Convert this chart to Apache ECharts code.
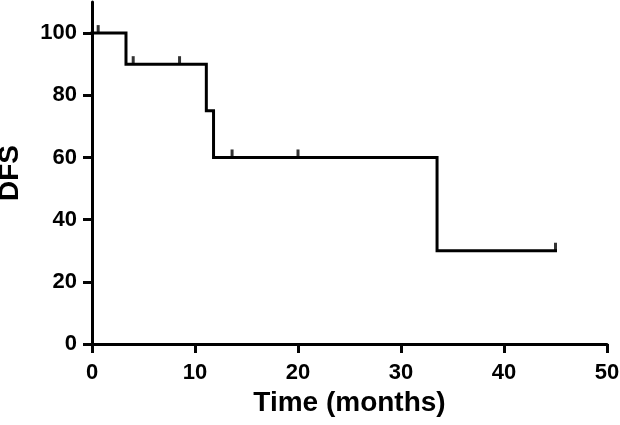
<!DOCTYPE html>
<html>
<head>
<meta charset="utf-8">
<script src="https://cdn.jsdelivr.net/npm/echarts@6/dist/echarts.min.js"></script>
<style>html,body{margin:0;padding:0;background:#fff}#c{width:620px;height:425px}</style>
</head>
<body>
<div id="c"></div>
<script>
// Kaplan-Meier step curve (time in months, DFS %)
var stepTimes  = [0, 3.3, 3.3, 11.1, 11.1, 11.8, 11.8, 33.5, 33.5, 45.0];
var stepValues = [100, 100, 90, 90, 75, 75, 60, 60, 30, 30];
// Censored observations
var censorTimes  = [0.6, 4.0, 8.5, 13.6, 20.0, 45.0];
var censorValues = [100, 90, 90, 60, 60, 30];
// Axis ticks
var xTicks = [0, 10, 20, 30, 40, 50];
var yTicks = [0, 20, 40, 60, 80, 100];

var font = 'Liberation Sans';
var tickColor = '#050505';
var chart = echarts.init(document.getElementById('c'));
chart.setOption({
  animation: false,
  grid: {left: 92, right: 13, top: 2, bottom: 81, containLabel: false, outerBoundsMode: 'none'},
  xAxis: {
    type: 'value', min: 0, max: 50, interval: 10,
    name: 'Time (months)', nameLocation: 'middle', nameGap: 44,
    nameTextStyle: {color: '#000', fontFamily: font, fontWeight: 'bold', fontSize: 28},
    axisLine: {show: true, lineStyle: {color: '#000', width: 3}},
    axisTick: {show: true, length: 9, lineStyle: {color: tickColor, width: 3}, customValues: xTicks},
    axisLabel: {color: '#000', fontFamily: font, fontWeight: 'bold', fontSize: 22, margin: 18, customValues: xTicks},
    splitLine: {show: false}
  },
  yAxis: {
    type: 'value', min: 0, max: 110, interval: 20,
    name: 'DFS', nameLocation: 'middle', nameGap: 68, nameRotate: 90,
    nameTextStyle: {color: '#000', fontFamily: font, fontWeight: 'bold', fontSize: 28},
    axisLine: {show: true, lineStyle: {color: '#000', width: 3}},
    axisTick: {show: true, length: 9, lineStyle: {color: tickColor, width: 3}, customValues: yTicks},
    axisLabel: {color: '#000', fontFamily: font, fontWeight: 'bold', fontSize: 22, margin: 15, customValues: yTicks},
    splitLine: {show: false}
  },
  series: [
    {
      type: 'line',
      data: stepTimes.map(function (t, i) { return [t, stepValues[i]]; }),
      showSymbol: false, symbol: 'none',
      lineStyle: {color: '#000', width: 3, join: 'miter', cap: 'square'},
      z: 3
    },
    {
      type: 'scatter',
      data: censorTimes.map(function (t, i) { return [t, censorValues[i]]; }),
      symbol: 'rect', symbolSize: [3, 8], symbolOffset: [0, -4],
      itemStyle: {color: '#000'},
      z: 4
    }
  ]
});
</script>
</body>
</html>
